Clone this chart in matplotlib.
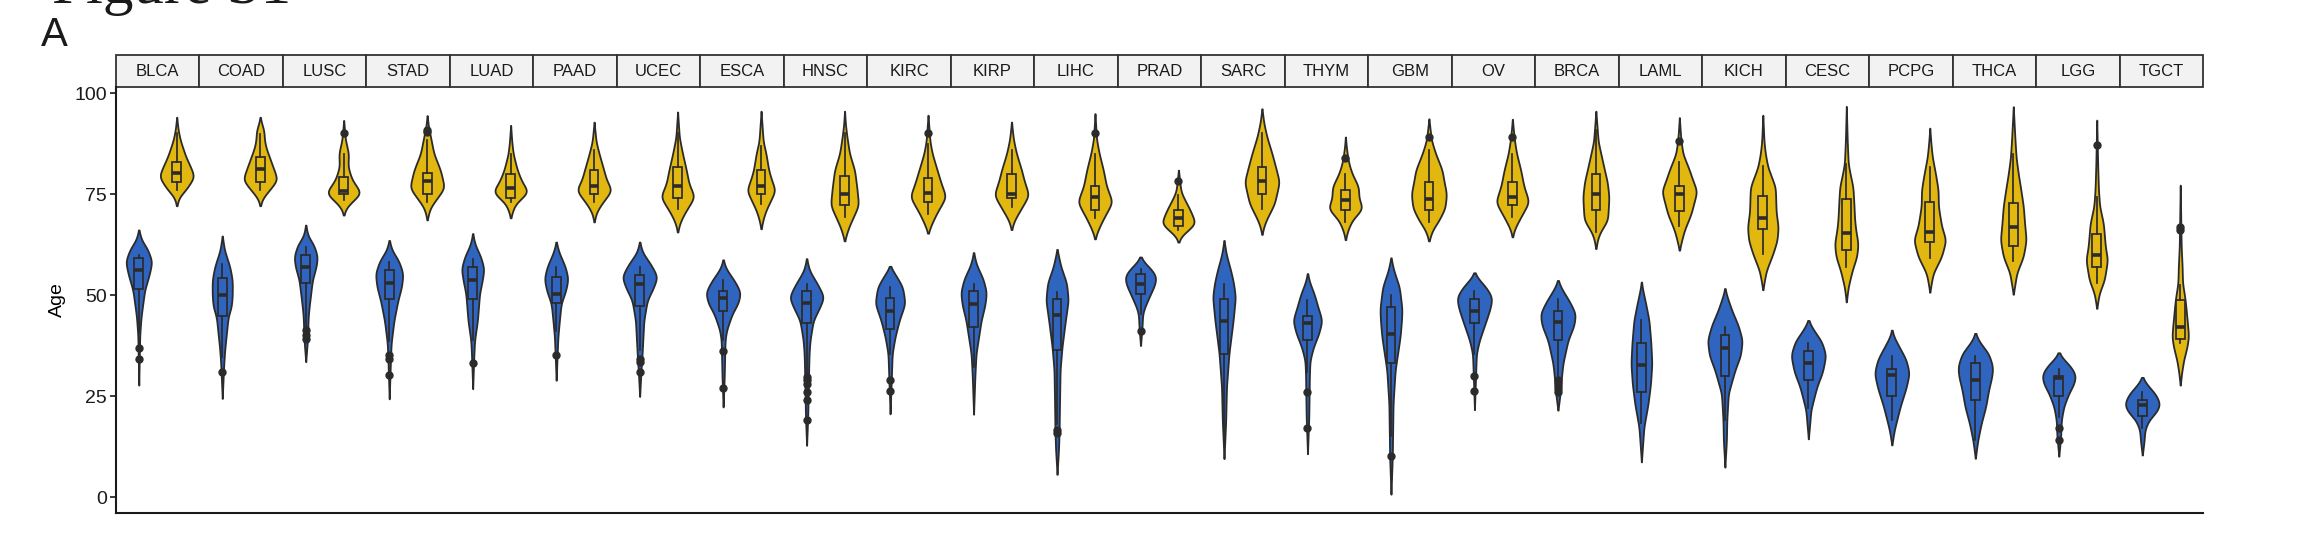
import numpy as np
import matplotlib.pyplot as plt
from matplotlib.transforms import blended_transform_factory
from matplotlib.patches import Rectangle

cancers = ["BLCA", "COAD", "LUSC", "STAD", "LUAD", "PAAD", "UCEC", "ESCA", "HNSC",
           "KIRC", "KIRP", "LIHC", "PRAD", "SARC", "THYM", "GBM", "OV", "BRCA",
           "LAML", "KICH", "CESC", "PCPG", "THCA", "LGG", "TGCT"]

# violin outlines: (age, violin width) knots, tips have width 0
young_shape = [
    [(27.7, 0), (40, .05), (44.6, .12), (51.2, .31), (55, .55), (58.3, .70), (61.5, .45), (63.5, .15), (66.1, 0)],
    [(24.4, 0), (33, .08), (36.4, .13), (44.6, .31), (47.1, .48), (50, .53), (53.7, .53), (57, .40), (61, .12), (64.6, 0)],
    [(33.5, 0), (38.9, .09), (44.6, .13), (47.1, .18), (53.7, .35), (57, .55), (59.5, .62), (62.5, .42), (64.5, .12), (67.3, 0)],
    [(24.3, 0), (33, .06), (38, .10), (43.7, .25), (48.7, .46), (52, .65), (55.3, .73), (58.5, .5), (61, .15), (63.5, 0)],
    [(26.8, 0), (35, .06), (38.8, .10), (43.7, .25), (50.3, .36), (53.5, .5), (56.5, .60), (59.5, .42), (62.5, .12), (65.2, 0)],
    [(28.9, 0), (36, .06), (39.6, .09), (43.7, .17), (47.9, .26), (51, .5), (54, .63), (57, .48), (60.5, .15), (63.1, 0)],
    [(24.9, 0), (32, .08), (35.5, .13), (43.7, .22), (48.7, .40), (51.5, .7), (54.5, .94), (57.5, .6), (60.5, .15), (63.1, 0)],
    [(22.3, 0), (30, .06), (38.8, .10), (41.3, .18), (45.4, .48), (48, .8), (50.7, .92), (53.5, .6), (56.5, .15), (58.7, 0)],
    [(12.8, 0), (20, .06), (30, .10), (35.5, .13), (38.8, .18), (43.7, .35), (47, .7), (49.5, .92), (52.5, .6), (56, .15), (59, 0)],
    [(20.6, 0), (30, .07), (35.5, .11), (39.6, .26), (43.7, .48), (47.9, .79), (52, .66), (54.5, .35), (57.1, 0)],
    [(20.5, 0), (30, .07), (35.5, .13), (43.7, .4), (47.5, .6), (50.7, .68), (54, .5), (57.5, .15), (60.5, 0)],
    [(5.6, 0), (12, .08), (16.5, .11), (23.1, .13), (31.4, .16), (37.1, .26), (43.7, .44), (48.7, .59), (53, .5), (57, .2), (61.3, 0)],
    [(37.5, 0), (42, .08), (45.4, .11), (47, .22), (50.3, .53), (52.5, .75), (54.6, .84), (56.5, .55), (58, .2), (59.4, 0)],
    [(9.5, 0), (19, .09), (27.2, .13), (35.5, .26), (43.7, .48), (49.5, .6), (53, .5), (56.1, .35), (60, .12), (63.5, 0)],
    [(10.7, 0), (20, .07), (30, .1), (33.8, .13), (37.1, .31), (40.5, .6), (43.7, .77), (47, .55), (50.3, .35), (53, .12), (55.3, 0)],
    [(0.7, 0), (10, .07), (23.1, .11), (31.4, .22), (39.6, .48), (44, .56), (46.6, .58), (52, .44), (56, .15), (59.2, 0)],
    [(21.6, 0), (30, .06), (35.5, .10), (38.8, .26), (43.7, .62), (47, .85), (49.5, .93), (52, .6), (54, .2), (55.5, 0)],
    [(21.5, 0), (25, .1), (28.9, .17), (33, .26), (38.8, .53), (42.5, .85), (45.4, .93), (48.5, .6), (51.5, .2), (53.6, 0)],
    [(8.7, 0), (14, .08), (17.3, .13), (23.1, .35), (28, .48), (33, .55), (38, .5), (43.7, .4), (48, .22), (51, .08), (53.2, 0)],
    [(7.4, 0), (14, .08), (19, .10), (25.6, .18), (31.4, .53), (35, .82), (38.8, .92), (42.5, .7), (46, .38), (49.5, .12), (51.6, 0)],
    [(14.4, 0), (18, .07), (21.5, .13), (27.2, .44), (31, .75), (35.1, .92), (38.5, .7), (41.5, .25), (43.7, 0)],
    [(12.9, 0), (16.6, .13), (22.4, .44), (27, .75), (30.6, .92), (34, .75), (37.5, .35), (39.5, .12), (41.3, 0)],
    [(9.6, 0), (14.1, .13), (18.2, .31), (22.4, .55), (26.5, .7), (30, .88), (32.3, .92), (35.5, .7), (38.5, .2), (40.5, 0)],
    [(10.1, 0), (15, .1), (19, .13), (22.4, .26), (25.7, .53), (28, .8), (30.2, .9), (32.5, .6), (34.3, .2), (35.7, 0)],
    [(10.4, 0), (14, .1), (16.6, .13), (19.1, .35), (21, .75), (23, .95), (25.5, .7), (27.8, .25), (29.6, 0)],
]

old_shape = [
    [(72.1, 0), (74.3, .13), (76, .48), (79.3, .94), (82, .7), (84.2, .48), (88.4, .18), (91, .07), (94, 0)],
    [(72.1, 0), (74, .13), (75.2, .35), (78.5, .92), (82, .65), (84.2, .48), (86.5, .3), (88.4, .22), (90.8, .2), (92.5, .07), (94, 0)],
    [(69.8, 0), (71.5, .12), (72.7, .35), (75.2, .94), (78.5, .44), (81.8, .22), (85, .26), (88.4, .09), (93.2, 0)],
    [(68.6, 0), (71.5, .15), (73.5, .45), (76.5, .92), (80.9, .7), (85, .35), (89.1, .18), (91.5, .07), (94.4, 0)],
    [(69.1, 0), (71, .12), (72.6, .26), (75.5, .95), (78, .6), (80.9, .35), (85, .13), (88, .06), (92, 0)],
    [(68.1, 0), (70.5, .12), (72.6, .4), (75.9, .94), (78.5, .65), (80.9, .51), (85, .26), (88, .1), (92.8, 0)],
    [(65.6, 0), (68, .13), (70.1, .35), (74.3, .9), (77.5, .6), (80.9, .46), (85, .26), (89, .09), (95.3, 0)],
    [(66.4, 0), (69, .12), (71, .26), (75.9, .76), (78.5, .55), (80.9, .4), (85, .26), (88, .11), (95.5, 0)],
    [(63.4, 0), (65, .1), (66.8, .22), (72.2, .74), (76.5, .65), (80.9, .53), (85, .26), (89, .13), (92, .05), (95.5, 0)],
    [(65.3, 0), (67.5, .18), (70.1, .44), (74.3, .95), (77.5, .7), (80.9, .48), (85, .22), (88, .1), (94.5, 0)],
    [(66.2, 0), (68.5, .15), (70.1, .35), (74.7, .92), (78.4, .66), (80.9, .53), (85, .26), (88.5, .1), (92.8, 0)],
    [(63.9, 0), (66, .15), (68.5, .4), (73, .92), (77, .6), (80.9, .44), (85, .22), (88.5, .08), (94.9, 0)],
    [(63.1, 0), (64.5, .12), (66, .5), (67.7, .92), (69.5, .75), (71, .62), (73.4, .35), (75.5, .13), (78, .07), (80.9, 0)],
    [(65, 0), (67, .1), (68.5, .22), (72.6, .66), (78, .92), (82, .7), (85, .53), (89.1, .26), (92.5, .1), (96.1, 0)],
    [(63.7, 0), (66, .12), (68.5, .35), (71.4, .92), (74, .7), (76.7, .7), (80, .35), (82.5, .18), (86, .06), (89.1, 0)],
    [(63.4, 0), (66, .18), (68.5, .53), (71.5, .85), (75.1, .93), (78, .8), (80.9, .7), (85, .35), (88.3, .13), (93.6, 0)],
    [(64.4, 0), (66.5, .13), (68.5, .35), (73, .88), (77, .6), (80.9, .44), (85, .22), (88.5, .1), (93.5, 0)],
    [(61.5, 0), (64, .1), (65.5, .22), (68.5, .62), (74.3, .69), (78, .6), (81, .45), (85, .26), (88, .12), (95.5, 0)],
    [(61.1, 0), (63.5, .12), (66, .26), (70.1, .62), (72.5, .75), (75.7, .93), (78.5, .7), (80.9, .53), (85, .18), (89, .07), (93.9, 0)],
    [(51.3, 0), (54, .1), (56, .18), (60.2, .53), (63.5, .75), (66.8, .81), (70.5, .7), (76.7, .66), (81.7, .26), (85, .13), (88, .06), (94.5, 0)],
    [(48.3, 0), (52, .1), (56.1, .31), (59.5, .55), (62.7, .62), (66, .5), (68.5, .44), (72.5, .4), (76.7, .35), (80, .2), (82.5, .1), (88, .05), (96.7, 0)],
    [(50.7, 0), (53.5, .1), (55.4, .18), (59.5, .62), (63.6, .85), (67, .62), (72, .45), (76, .44), (80, .3), (84.2, .13), (87.5, .06), (91.3, 0)],
    [(50.2, 0), (53, .1), (55.4, .18), (59.5, .53), (63.6, .68), (67.5, .6), (71.9, .53), (76, .4), (80.1, .26), (84, .15), (88.4, .09), (92, .05), (96.6, 0)],
    [(46.7, 0), (49, .08), (50.4, .13), (53.7, .4), (58.7, .57), (62, .45), (67.7, .35), (72, .15), (76, .09), (82, .05), (93.3, 0)],
    [(27.7, 0), (31, .08), (33.9, .18), (37, .35), (39.7, .44), (43, .38), (48.8, .26), (53, .12), (57, .1), (62, .05), (77.2, 0)],
]

# box stats: (lower whisker, q1, median, q3, upper whisker)
young_box = [
    (40.5, 51.6, 56.2, 59.1, 60.0), (34.7, 44.8, 50.0, 54.1, 57.8), (42.2, 53.0, 57.0, 59.9, 62.0),
    (38.6, 49.1, 53.0, 56.1, 58.2), (38.8, 49.1, 53.8, 56.9, 59.0), (41.0, 48.0, 50.2, 54.5, 56.9),
    (36.3, 47.2, 52.8, 54.9, 56.9), (38.8, 46.0, 49.3, 51.0, 53.8), (30.5, 43.0, 48.0, 51.0, 52.8),
    (35.5, 41.7, 46.0, 49.3, 52.0), (32.2, 42.1, 47.7, 51.0, 52.8), (18.0, 36.3, 45.0, 49.1, 50.7),
    (45.4, 50.2, 52.8, 55.1, 56.5), (14.9, 35.5, 43.6, 49.1, 52.8), (31.0, 38.9, 43.1, 44.7, 48.7),
    (15.0, 33.2, 40.3, 47.0, 50.0), (35.5, 43.0, 46.0, 49.1, 51.0), (30.0, 38.8, 43.3, 46.0, 49.1),
    (18.2, 26.0, 32.6, 38.1, 43.7), (19.0, 30.0, 37.0, 40.0, 42.1), (22.0, 29.0, 33.2, 36.1, 38.0),
    (19.1, 25.0, 30.2, 31.8, 34.9), (14.1, 24.0, 29.0, 33.1, 34.9), (19.9, 25.0, 29.4, 30.0, 31.8),
    (17.0, 20.0, 22.8, 24.0, 26.1),
]
old_box = [
    (76.0, 78.0, 80.1, 83.0, 90.0), (76.0, 78.0, 81.1, 84.1, 89.9), (73.5, 75.0, 75.8, 79.1, 85.0),
    (73.0, 75.1, 78.1, 80.2, 88.3), (73.0, 74.1, 76.5, 79.9, 85.0), (73.0, 75.1, 77.1, 80.9, 86.0),
    (71.4, 74.1, 77.1, 81.8, 90.0), (72.5, 74.9, 77.1, 81.0, 87.0), (69.3, 72.2, 75.1, 79.4, 90.0),
    (70.1, 73.0, 75.2, 79.0, 87.5), (71.8, 74.0, 74.9, 79.9, 86.0), (69.1, 71.1, 74.3, 77.1, 85.0),
    (66.0, 67.2, 69.1, 71.1, 74.7), (71.4, 74.9, 78.2, 81.8, 90.0), (68.0, 71.1, 73.4, 75.9, 80.0),
    (68.1, 71.0, 73.8, 78.0, 86.0), (69.3, 72.2, 74.3, 78.0, 85.0), (65.5, 71.0, 75.1, 79.9, 90.8),
    (67.2, 70.8, 75.1, 77.0, 82.9), (60.2, 66.4, 69.1, 74.5, 82.0), (56.9, 61.1, 65.3, 73.8, 82.5),
    (59.1, 63.0, 65.7, 72.9, 81.8), (58.3, 62.1, 66.9, 72.7, 85.0), (52.9, 57.0, 59.9, 65.1, 74.3),
    (38.0, 39.1, 42.2, 48.8, 52.5),
]

young_out = [[37, 34.1], [31], [41.3, 40.1, 39], [35.1, 34.2, 30.1], [33.2], [35.2],
             [34.2, 33.5, 30.9], [36.1, 27], [29.7, 28.9, 28, 26, 23.9, 19], [29, 26.2], [],
             [16.6, 15.8], [41], [], [26, 17.1], [10.1], [30, 26.2],
             [28.9, 28.2, 27.5, 26.8, 26], [], [], [], [], [], [17, 14.1], []]
old_out = [[], [], [90], [90.3, 90.8], [], [], [], [], [], [90.1], [], [90.1], [78.1], [],
           [84], [89.1], [89.1], [], [88.1], [], [], [], [], [87.1], [66.9, 66.1]]

blue = "#2F65BF"
gold = "#E1B710"
dark = "#2b2b2b"
step_x = 2.2


def draw_violin(ax, x, knots, color):
    ages = np.array([k[0] for k in knots])
    widths = np.array([k[1] for k in knots])
    grid = np.linspace(ages[0], ages[-1], 400)
    w = np.interp(grid, ages, widths)
    sig = 0.9 / (grid[1] - grid[0])
    kern = np.exp(-0.5 * (np.arange(-int(4 * sig), int(4 * sig) + 1) / sig) ** 2)
    w = np.convolve(w, kern / kern.sum(), mode="same")
    ax.fill_betweenx(grid, x - w / 2, x + w / 2, facecolor=color, edgecolor=dark,
                     linewidth=1.3, zorder=2)


def draw_box(ax, x, b, fl, color):
    st = dict(whislo=b[0], q1=b[1], med=b[2], q3=b[3], whishi=b[4], fliers=fl)
    ax.bxp([st], positions=[x], widths=0.23, showcaps=False, patch_artist=True,
           manage_ticks=False, zorder=3,
           boxprops=dict(facecolor=color, edgecolor=dark, linewidth=1.25),
           whiskerprops=dict(color=dark, linewidth=1.25),
           medianprops=dict(color=dark, linewidth=2.6),
           flierprops=dict(marker="o", markerfacecolor=dark, markeredgecolor=dark,
                           markersize=5))


fig = plt.figure(figsize=(22.98, 5.4), dpi=100)
ax = fig.add_axes([116 / 2298, 27 / 540, 2087 / 2298, 426 / 540])

for i, name in enumerate(cancers):
    x0 = i * step_x
    draw_violin(ax, x0, young_shape[i], blue)
    draw_box(ax, x0, young_box[i], young_out[i], blue)
    draw_violin(ax, x0 + 1, old_shape[i], gold)
    draw_box(ax, x0 + 1, old_box[i], old_out[i], gold)

ax.set_xlim(-0.6, len(cancers) * step_x - 0.6)
ax.set_ylim(-3.96, 101.49)
ax.set_yticks([0, 25, 50, 75, 100])
ax.set_xticks([])
for s in ["top", "right"]:
    ax.spines[s].set_visible(False)
for s in ["left", "bottom"]:
    ax.spines[s].set_linewidth(1.5)
    ax.spines[s].set_color("#1a1a1a")
ax.tick_params(axis="y", labelsize=14, length=4.5, width=1.2, pad=2,
               color="#1a1a1a", labelcolor="#1a1a1a")
for t in ax.get_yticklabels():
    t.set_family("Liberation Sans")
ax.set_ylabel("Age", fontsize=14, family="Liberation Sans", labelpad=6)

# facet strips
tr = blended_transform_factory(ax.transData, ax.transAxes)
for i, name in enumerate(cancers):
    left = i * step_x - 0.6
    ax.add_patch(Rectangle((left, 1.0), step_x, 0.075, transform=tr, clip_on=False,
                           facecolor="#F2F2F2", edgecolor="#333333", linewidth=1.3))
    ax.text(left + step_x / 2, 1.0375, name, transform=tr, ha="center", va="center",
            fontsize=12, family="Liberation Sans", color="#1a1a1a")

# page heading, cut off by the top edge as in the source figure
fig.text(52 / 2298, 1 - 3 / 540, "Figure S1", fontsize=44, family="Liberation Serif",
         va="baseline", color="#1a1a1a")
fig.text(41 / 2298, 1 - 46 / 540, "A", fontsize=29, family="Liberation Sans",
         va="baseline", color="#1a1a1a")

fig.savefig("out.png", dpi=100, facecolor="white")
